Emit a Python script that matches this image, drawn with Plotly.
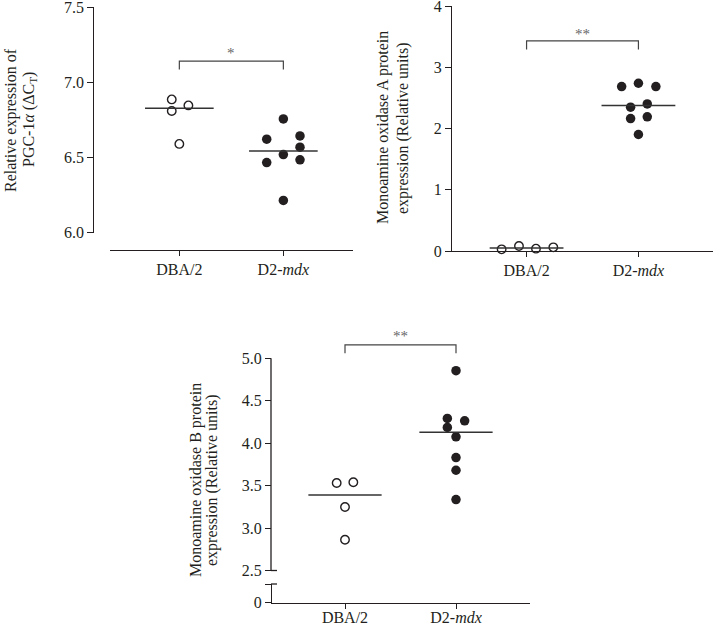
import numpy as np
import plotly.graph_objects as go

W, H = 715, 627

# ---------------- data ----------------
categories = ["DBA/2", "D2-<i>mdx</i>"]

pgc_dba = [6.887, 6.810, 6.847, 6.591]
pgc_mdx = [6.757, 6.622, 6.644, 6.569, 6.520, 6.467, 6.485, 6.215]

maoa_dba = [0.027, 0.082, 0.038, 0.060]
maoa_mdx = [2.685, 2.739, 2.685, 2.348, 2.402, 2.163, 2.190, 1.902]

maob_dba = [3.531, 3.539, 3.248, 2.862]
maob_mdx = [4.854, 4.291, 4.264, 4.185, 4.075, 3.831, 3.681, 3.335]

pgc_ticks = [6.0, 6.5, 7.0, 7.5]
maoa_ticks = [0, 1, 2, 3, 4]
maob_ticks = [2.5, 3.0, 3.5, 4.0, 4.5, 5.0]
significance = ["*", "**", "**"]

# ---------------- layout helpers (positions / styles) ----------------
jit_pgc_dba = [-0.073, -0.073, 0.087, 0.0]
jit_pgc_mdx = [0.0, -0.16, 0.16, 0.16, 0.0, -0.16, 0.16, 0.0]
jit_maoa_dba = [-0.223, -0.068, 0.084, 0.239]
jit_maoa_mdx = [-0.15, 0.0, 0.156, -0.07, 0.079, -0.07, 0.079, 0.0]
jit_maob_dba = [-0.075, 0.075, 0.0, 0.0]
jit_maob_mdx = [0.0, -0.078, 0.078, -0.078, 0.0, 0.0, 0.0, 0.0]

FONT = "Liberation Serif, Times New Roman, serif"
INK = "#231f20"
AX_W = 1.3

def fx(px):
    return px / W

def fy(py):
    return 1 - py / H

fig = go.Figure()

def add_group(xa, ya, center, vals, jit, filled):
    xs = [center + j for j in jit]
    fig.add_trace(go.Scatter(
        x=xs, y=vals, mode="markers", xaxis=xa, yaxis=ya,
        cliponaxis=False, hoverinfo="skip",
        marker=dict(symbol="circle", size=9.5 if filled else 8.5,
                    color=INK if filled else "white",
                    line=dict(color=INK, width=0 if filled else 1.4))))
    med = float(np.median(vals))
    fig.add_trace(go.Scatter(
        x=[center - 0.33, center + 0.33], y=[med, med], mode="lines",
        xaxis=xa, yaxis=ya, cliponaxis=False, hoverinfo="skip",
        line=dict(color="#333333", width=1.5)))

add_group("x", "y", 0, pgc_dba, jit_pgc_dba, False)
add_group("x", "y", 1, pgc_mdx, jit_pgc_mdx, True)
add_group("x2", "y2", 0, maoa_dba, jit_maoa_dba, False)
add_group("x2", "y2", 1, maoa_mdx, jit_maoa_mdx, True)
add_group("x3", "y3", 0, maob_dba, jit_maob_dba, False)
add_group("x3", "y3", 1, maob_mdx, jit_maob_mdx, True)
# empty trace so the lower (broken) axis segment gets its own subplot
fig.add_trace(go.Scatter(x=[None], y=[None], xaxis="x3", yaxis="y4",
                         mode="markers", hoverinfo="skip"))

tickfont = dict(family=FONT, size=16, color=INK)
xr = [-2 / 3, 5 / 3]
xcommon = dict(range=xr, tickvals=[0, 1], ticktext=categories, ticks="outside",
               ticklen=5, tickwidth=AX_W, tickcolor=INK, showline=True,
               linecolor=INK, linewidth=AX_W, showgrid=False, zeroline=False,
               tickfont=tickfont, fixedrange=True, automargin=False,
               ticklabeloverflow="allow")
ycommon = dict(ticks="outside", ticklen=6, tickwidth=AX_W, tickcolor=INK,
               showgrid=False, zeroline=False, tickfont=tickfont,
               fixedrange=True, linecolor=INK, linewidth=AX_W,
               automargin=False, ticklabeloverflow="allow")

# y3 geometry (upper part of broken axis)
y3_bottom_px, y3_5_px = 570.5, 358.3
y3_unit = (y3_bottom_px - y3_5_px) / 2.5
y3_top_val = 5.35
y3_top_px = y3_bottom_px - (y3_top_val - 2.5) * y3_unit

fig.update_layout(
    width=W, height=H, margin=dict(l=0, r=0, t=0, b=0, autoexpand=False),
    paper_bgcolor="white", plot_bgcolor="white", showlegend=False,
    xaxis=dict(xcommon, domain=[fx(110), fx(352.7)], anchor="free",
               position=fy(250)),
    yaxis=dict(ycommon, domain=[fy(232.7), fy(7.3)], range=[6.0, 7.5],
               tickvals=pgc_ticks, tickformat=".1f", anchor="free",
               position=fx(93.3), showline=True),
    xaxis2=dict(xcommon, domain=[fx(452), fx(713)], anchor="y2"),
    yaxis2=dict(ycommon, domain=[fy(251), fy(6)], range=[0, 4],
                tickvals=maoa_ticks, anchor="x2", showline=True),
    xaxis3=dict(xcommon, domain=[fx(271), fx(530)], anchor="free",
                position=fy(602.5), ticklabelstandoff=-5),
    yaxis3=dict(ycommon, domain=[fy(y3_bottom_px), fy(y3_top_px)],
                range=[2.5, y3_top_val], tickvals=maob_ticks,
                tickformat=".1f", anchor="free", position=fx(271),
                showline=False),
    yaxis4=dict(ycommon, domain=[fy(602.5), fy(584)], range=[0, 1],
                tickvals=[0, 1], ticktext=["0", " "], anchor="free",
                position=fx(271), showline=True),
)

shapes = []
def bracket(xa, ya, bar, leg):
    shapes.append(dict(type="path", xref=xa, yref=ya,
                       path=f"M 0,{leg} L 0,{bar} L 1,{bar} L 1,{leg}",
                       line=dict(color="#444444", width=1.2)))

bracket("x", "y", 7.142, 7.086)
bracket("x2", "y2", 3.43, 3.29)
bracket("x3", "y3", 5.157, 5.059)

# upper segment of broken axis + break caps
shapes.append(dict(type="line", xref="paper", yref="y3",
                   x0=fx(271), x1=fx(271), y0=2.5, y1=5.0,
                   line=dict(color=INK, width=AX_W)))
shapes.append(dict(type="line", xref="paper", yref="y3 domain",
                   x0=fx(271), x1=fx(277), y0=0, y1=0,
                   line=dict(color=INK, width=AX_W)))
shapes.append(dict(type="line", xref="paper", yref="y4 domain",
                   x0=fx(271), x1=fx(277), y0=1, y1=1,
                   line=dict(color=INK, width=AX_W)))
fig.update_layout(shapes=shapes)

annots = []
for xa, ya, yv, s in [("x", "y", 7.197, significance[0]),
                      ("x2", "y2", 3.55, significance[1]),
                      ("x3", "y3", 5.264, significance[2])]:
    annots.append(dict(x=0.5, y=yv, xref=xa, yref=ya, text=s, showarrow=False,
                       font=dict(family=FONT, size=15, color="#666666"),
                       xanchor="center", yanchor="middle"))

title_font = dict(family=FONT, size=16, color=INK)
for px, py, txt in [
    (11, 120, "Relative expression of"),
    (29, 120, "PGC-1<i>α</i> (ΔC<sub>T</sub>)"),
    (383, 128, "Monoamine oxidase A protein"),
    (403, 128, "expression (Relative units)"),
    (196, 480, "Monoamine oxidase B protein"),
    (212, 480, "expression (Relative units)"),
]:
    annots.append(dict(x=fx(px), y=fy(py), xref="paper", yref="paper",
                       text=txt, textangle=-90, showarrow=False,
                       font=title_font, xanchor="center", yanchor="middle"))
fig.update_layout(annotations=annots)

fig.write_html(
    "out.html",
    config={"displayModeBar": False},
    post_script="document.body.style.margin='0';"
                "document.body.style.overflow='hidden';",
)
